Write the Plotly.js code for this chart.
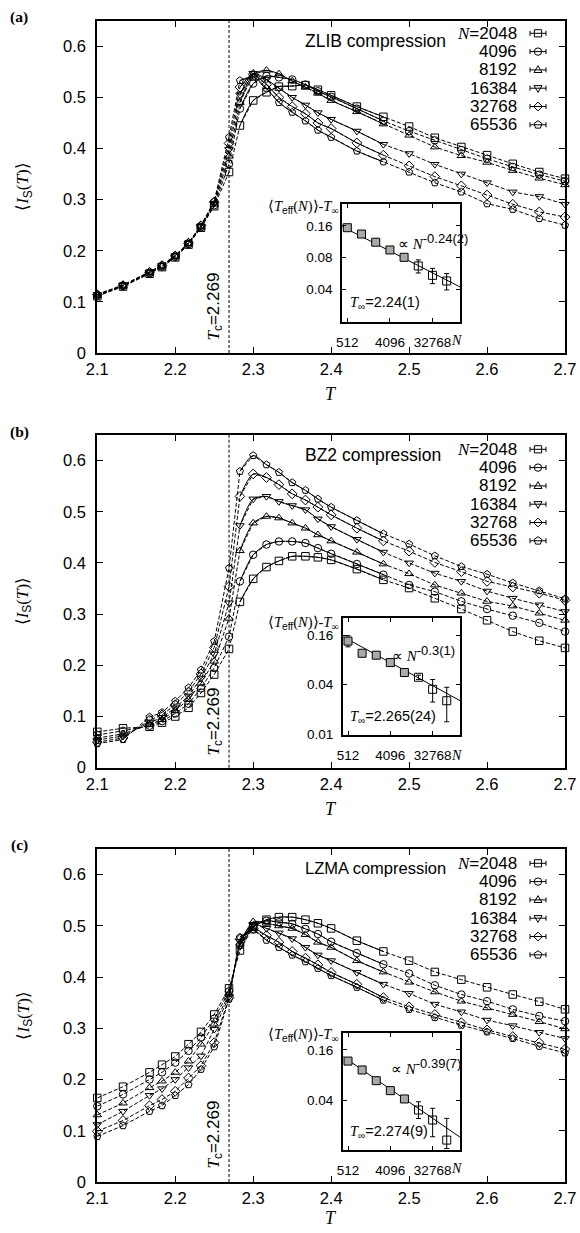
<!DOCTYPE html>
<html><head><meta charset="utf-8">
<script src="https://cdn.plot.ly/plotly-3.0.1.min.js"></script>
<style>html,body{margin:0;padding:0;background:#fff}#chart{width:580px;height:1233px}</style>
</head><body><div id="chart"></div>
<script>
// ---------------- DATA ----------------
const T = [2.1, 2.133, 2.167, 2.183, 2.2, 2.217, 2.233, 2.25, 2.269, 2.283, 2.3, 2.317, 2.333, 2.35, 2.367, 2.383, 2.4, 2.433, 2.467, 2.5, 2.533, 2.567, 2.6, 2.633, 2.667, 2.7];
const TC = 2.269;
const sizes = [2048, 4096, 8192, 16384, 32768, 65536];

// (a) ZLIB
const zlib2048  = [.111,.130,.155,.168,.187,.212,.245,.287,.354,.445,.494,.510,.521,.522,.524,.515,.504,.482,.462,.443,.421,.403,.387,.370,.354,.341];
const zlib4096  = [.112,.131,.156,.169,.188,.213,.246,.289,.370,.478,.527,.542,.539,.535,.525,.512,.501,.478,.454,.434,.416,.397,.380,.364,.349,.336];
const zlib8192  = [.113,.131,.157,.170,.189,.214,.247,.291,.385,.490,.545,.553,.546,.532,.520,.508,.494,.472,.448,.426,.403,.386,.373,.357,.342,.329];
const zlib16384 = [.114,.132,.158,.171,.190,.215,.248,.293,.398,.505,.547,.535,.518,.500,.485,.470,.457,.434,.408,.390,.369,.350,.333,.315,.306,.291];
const zlib32768 = [.114,.132,.158,.171,.190,.215,.249,.295,.410,.520,.545,.525,.500,.482,.468,.450,.439,.411,.387,.366,.345,.327,.309,.291,.276,.266];
const zlib65536 = [.115,.133,.159,.172,.191,.216,.250,.297,.422,.533,.540,.518,.490,.471,.454,.436,.422,.395,.374,.354,.333,.315,.292,.281,.263,.250];

// (b) BZ2
const bz2_2048  = [.070,.077,.080,.088,.100,.117,.146,.182,.232,.324,.369,.392,.404,.413,.413,.411,.406,.388,.367,.351,.331,.310,.288,.266,.248,.234];
const bz2_4096  = [.064,.072,.082,.091,.106,.125,.155,.195,.256,.364,.416,.436,.442,.442,.439,.429,.418,.398,.377,.357,.344,.325,.310,.297,.283,.266];
const bz2_8192  = [.058,.066,.084,.094,.112,.133,.165,.208,.292,.424,.478,.491,.488,.478,.468,.455,.443,.421,.398,.379,.357,.341,.325,.316,.302,.288];
const bz2_16384 = [.054,.062,.088,.098,.117,.140,.175,.222,.322,.473,.525,.530,.520,.512,.504,.486,.471,.446,.421,.400,.380,.364,.345,.331,.318,.305];
const bz2_32768 = [.050,.058,.093,.103,.123,.148,.183,.235,.354,.530,.574,.567,.553,.535,.523,.509,.494,.468,.443,.423,.401,.383,.364,.353,.341,.327];
const bz2_65536 = [.047,.055,.099,.108,.130,.156,.191,.247,.390,.579,.610,.592,.577,.557,.542,.525,.509,.483,.457,.437,.414,.393,.378,.361,.346,.330];

// (c) LZMA
const lzma2048  = [.164,.186,.214,.229,.245,.269,.293,.327,.378,.452,.498,.512,.517,.517,.512,.505,.495,.471,.450,.432,.410,.395,.380,.366,.352,.337];
const lzma4096  = [.148,.171,.200,.214,.233,.256,.282,.319,.372,.462,.500,.510,.507,.504,.494,.484,.469,.447,.425,.407,.384,.366,.353,.337,.324,.314];
const lzma8192  = [.131,.154,.184,.197,.214,.236,.269,.308,.367,.466,.508,.505,.500,.495,.483,.468,.458,.432,.410,.390,.371,.353,.340,.327,.313,.299];
const lzma16384 = [.112,.138,.169,.182,.200,.223,.246,.298,.362,.470,.503,.495,.486,.475,.458,.443,.432,.409,.386,.368,.347,.332,.316,.305,.292,.280];
const lzma32768 = [.099,.120,.149,.161,.177,.203,.227,.272,.360,.474,.495,.481,.468,.450,.437,.424,.409,.386,.360,.342,.327,.311,.297,.284,.272,.259];
const lzma65536 = [.089,.110,.138,.149,.169,.190,.220,.264,.357,.478,.492,.472,.458,.443,.430,.417,.403,.380,.355,.337,.321,.306,.293,.280,.265,.252];

// insets: <T_eff(N)> - T_inf
const insetN = [512, 1024, 2048, 4096, 8192, 16384, 32768, 65536];
const zlibTeff = [0.154, 0.134, 0.112, 0.0944, 0.0803, 0.0664, 0.054, 0.0477];
const zlibTeffErr = [0.006, 0.005, 0.004, 0.004, 0.003, 0.0095, 0.009, 0.0085];
const bz2Teff = [0.135, 0.096, 0.091, 0.074, 0.056, 0.049, 0.035, 0.0254];
const bz2TeffErrUp = [0.022, 0.005, 0.005, 0.004, 0.003, 0.003, 0.011, 0.0116];
const bz2TeffErrDown = [0.02, 0.005, 0.005, 0.004, 0.003, 0.003, 0.0105, 0.0113];
const lzmaTeff = [0.118, 0.0924, 0.0689, 0.0524, 0.0417, 0.0308, 0.0234, 0.0135];
const lzmaTeffErrUp = [0.006, 0.004, 0.003, 0.002, 0.002, 0.0078, 0.0089, 0.011];
const lzmaTeffErrDown = [0.006, 0.004, 0.003, 0.002, 0.002, 0.0064, 0.0086, 0.0028];
const zlibFitN = [400, 131072], zlibFitT = [0.1575, 0.0415];
const bz2FitN = [405, 127000],  bz2FitT = [0.1525, 0.0254];
const lzmaFitN = [405, 127000], lzmaFitT = [0.133, 0.01458];

const compressionNames = ['ZLIB compression', 'BZ2 compression', 'LZMA compression'];
const panelLabels = ['(a)', '(b)', '(c)'];
const exponents = ['-0.24(2)', '-0.3(1)', '-0.39(7)'];
const tInfs = ['2.24(1)', '2.265(24)', '2.274(9)'];
const insetXTicks = [512, 4096, 32768];
const insetYTicksA = [0.04, 0.08, 0.16];
const insetYTicksBC = [0.01, 0.04, 0.16];
const fitRange = [2.283, 2.467];

// ---------------- STYLE / GEOMETRY ----------------
const W = 580, H = 1233;
const SANS = "Liberation Sans, Arial, sans-serif";
const SERIF = "Liberation Serif, Times New Roman, serif";
const px = v => v / W, py = v => 1 - v / H;
const plotL = 97.3, plotR = 565;
const symbols = ['square', 'circle', 'triangle-up', 'triangle-down', 'diamond', 'pentagon'];
const insetFill = insetN.map((n, j) => j < 5 ? '#a9a9a9' : 'rgba(255,255,255,0)');
const geom = [
  {top:20.7, bottom:353, ins:{l:342,r:460,t:204,b:322}, insR:[-1.713,-0.586], leg0:33.3, title:40.7, titleSize:17.5, lab:17, xt:394, tc:307, insTitle:207, nLab:340, prop:[396,241], tinf:[385,302.5]},
  {top:435, bottom:767.7, ins:{l:342.7,r:460,t:617.7,b:735}, insR:[-2.012,-0.585], leg0:449.3, title:455, titleSize:17.5, lab:432, xt:809, tc:722, insTitle:623.3, nLab:755, prop:[390,653], tinf:[392.5,716.7]},
  {top:849, bottom:1182, ins:{l:342.7,r:460,t:1032.7,b:1150}, insR:[-1.988,-0.59], leg0:863.3, title:868.3, titleSize:16.5, lab:845, xt:1218, tc:1135, insTitle:1035, nLab:1168, prop:[389,1066], tinf:[389,1131.5]}
];
const panels = [
  {series:[zlib2048,zlib4096,zlib8192,zlib16384,zlib32768,zlib65536], teff:zlibTeff, up:zlibTeffErr, down:zlibTeffErr, fitN:zlibFitN, fitT:zlibFitT, yt:insetYTicksA},
  {series:[bz2_2048,bz2_4096,bz2_8192,bz2_16384,bz2_32768,bz2_65536], teff:bz2Teff, up:bz2TeffErrUp, down:bz2TeffErrDown, fitN:bz2FitN, fitT:bz2FitT, yt:insetYTicksBC},
  {series:[lzma2048,lzma4096,lzma8192,lzma16384,lzma32768,lzma65536], teff:lzmaTeff, up:lzmaTeffErrUp, down:lzmaTeffErrDown, fitN:lzmaFitN, fitT:lzmaFitT, yt:insetYTicksBC}
];

const traces = [], shapes = [], annotations = [];
const layout = {
  width: W, height: H, margin:{l:0,r:0,t:0,b:0},
  paper_bgcolor:'#fff', plot_bgcolor:'rgba(0,0,0,0)', showlegend:false,
  font:{family:SANS, color:'#000', size:16}
};

function symPath(s){
  switch(s){
    case 'square': return 'M -3.6,-3.6 L 3.6,-3.6 L 3.6,3.6 L -3.6,3.6 Z';
    case 'triangle-up': return 'M 0,4.2 L 4,-2.6 L -4,-2.6 Z';
    case 'triangle-down': return 'M 0,-4.2 L 4,2.6 L -4,2.6 Z';
    case 'diamond': return 'M 0,4.4 L 4.4,0 L 0,-4.4 L -4.4,0 Z';
    case 'pentagon': return 'M 0,4.1 L 3.9,1.27 L 2.41,-3.32 L -2.41,-3.32 L -3.9,1.27 Z';
  }
}
const serif = t => `<span style="font-family:Liberation Serif, Times New Roman, serif">${t}</span>`;
const sans = t => `<span style="font-family:Liberation Sans, Arial, sans-serif">${t}</span>`;

panels.forEach((p, i) => {
  const g = geom[i];
  const xa = i === 0 ? 'x' : 'x' + (i + 1), ya = i === 0 ? 'y' : 'y' + (i + 1);
  const xi = 'x' + (i + 4), yi = 'y' + (i + 4);
  const xk = i === 0 ? 'xaxis' : 'xaxis' + (i + 1), yk = i === 0 ? 'yaxis' : 'yaxis' + (i + 1);
  const axCommon = {showline:true, linewidth:2, linecolor:'#000', mirror:'ticks', ticks:'inside', ticklen:6, tickwidth:1, tickcolor:'#000', showgrid:false, zeroline:false, fixedrange:true, tickfont:{family:SANS, size:16.5}};
  layout[xk] = Object.assign({}, axCommon, {domain:[px(plotL), px(plotR)], range:[2.1, 2.7], tick0:2.1, dtick:0.1, anchor:ya, ticklabelstandoff:0});
  layout[yk] = Object.assign({}, axCommon, {domain:[py(g.bottom), py(g.top)], range:[0, 0.65], tick0:0, dtick:0.1, anchor:xa, ticklabelstandoff:6});

  p.series.forEach((vals, k) => {
    traces.push({x:T, y:vals, xaxis:xa, yaxis:ya, type:'scatter', mode:'lines+markers', cliponaxis:false, hoverinfo:'skip',
      line:{color:'#000', width:1, dash:'4px,2px'},
      marker:{symbol:symbols[k] + '-open', size:7.5, color:'#000', line:{width:1, color:'#000'}}});
    const fx = [], fy = [];
    T.forEach((t, j) => { if (t >= fitRange[0] - 1e-9 && t <= fitRange[1] + 1e-9) { fx.push(t); fy.push(vals[j]); } });
    traces.push({x:fx, y:fy, xaxis:xa, yaxis:ya, type:'scatter', mode:'lines', hoverinfo:'skip',
      line:{color:'#000', width:1, shape:'spline', smoothing:0.8}});
  });

  // inset axes
  const iax = {showline:true, linewidth:1.8, linecolor:'#000', mirror:'ticks', ticks:'inside', ticklen:4, tickwidth:1, tickcolor:'#000', showgrid:false, zeroline:false, fixedrange:true, type:'log', tickfont:{family:SANS, size:13.5}};
  layout['xaxis' + (i + 4)] = Object.assign({}, iax, {domain:[px(g.ins.l), px(g.ins.r)], range:[2.596, 5.0995], tickvals:insetXTicks, ticktext:insetXTicks.map(String), anchor:yi, ticklabelstandoff:7});
  layout['yaxis' + (i + 4)] = Object.assign({}, iax, {domain:[py(g.ins.b), py(g.ins.t)], range:g.insR, tickvals:p.yt, ticktext:p.yt.map(String), anchor:xi, ticklabelstandoff:5});
  traces.push({x:p.fitN, y:p.fitT, xaxis:xi, yaxis:yi, type:'scatter', mode:'lines', hoverinfo:'skip', line:{color:'#000', width:1}});
  traces.push({x:insetN, y:p.teff, xaxis:xi, yaxis:yi, type:'scatter', mode:'markers', hoverinfo:'skip', cliponaxis:false,
    marker:{symbol:'square', size:8, color:insetFill, line:{width:1, color:'#000'}},
    error_y:{type:'data', array:p.up, arrayminus:p.down, visible:true, color:'#000', thickness:1, width:2.5}});

  // Tc line
  shapes.push({type:'line', xref:xa, yref:ya + ' domain', x0:TC, x1:TC, y0:0, y1:1, line:{color:'#000', width:1, dash:'3px,2px'}});

  // legend glyphs + labels
  sizes.forEach((s, k) => {
    const cy = g.leg0 + k * 18.3;
    shapes.push({type:'path', xref:'paper', yref:'paper', xsizemode:'pixel', ysizemode:'pixel', xanchor:px(538), yanchor:py(cy),
      path:'M -8,-2.5 L -8,2.5 M -8,0 L 8,0 M 8,-2.5 L 8,2.5', line:{color:'#000', width:1}});
    if (symbols[k] === 'circle') {
      shapes.push({type:'circle', xref:'paper', yref:'paper', xsizemode:'pixel', ysizemode:'pixel', xanchor:px(538), yanchor:py(cy), x0:-3.7, x1:3.7, y0:-3.7, y1:3.7, line:{color:'#000', width:1}});
    } else {
      shapes.push({type:'path', xref:'paper', yref:'paper', xsizemode:'pixel', ysizemode:'pixel', xanchor:px(538), yanchor:py(cy), path:symPath(symbols[k]), line:{color:'#000', width:1}});
    }
    const txt = k === 0 ? `${serif('<i>N</i>')}=${s}` : String(s);
    annotations.push({xref:'paper', yref:'paper', x:px(518.5), y:py(cy), xanchor:'right', yanchor:'middle', text:txt, showarrow:false, font:{family:SANS, size:17}});
  });

  annotations.push({xref:'paper', yref:'paper', x:px(303), y:py(g.title), xanchor:'left', yanchor:'middle', text:compressionNames[i], showarrow:false, font:{family:SANS, size:g.titleSize}});
  annotations.push({xref:'paper', yref:'paper', x:px(19), y:py(g.lab), xanchor:'center', yanchor:'middle', text:'<b>' + panelLabels[i] + '</b>', showarrow:false, font:{family:SERIF, size:15.5}});
  annotations.push({xref:'paper', yref:'paper', x:px(24), y:py((g.top + g.bottom) / 2), xanchor:'center', yanchor:'middle', textangle:-90,
    text:`⟨<i>I</i><sub>${sans('S')}</sub>(<i>T</i>)⟩`, showarrow:false, font:{family:SERIF, size:17}});
  annotations.push({xref:'paper', yref:'paper', x:px((plotL + plotR) / 2), y:py(g.xt), xanchor:'center', yanchor:'middle',
    text:'<i>T</i>', showarrow:false, font:{family:SERIF, size:18}});
  annotations.push({xref:'paper', yref:'paper', x:px(214.5), y:py(g.tc), xanchor:'center', yanchor:'middle', textangle:-90,
    text:`${serif('<i>T</i>')}<sub>c</sub>=${TC}`, showarrow:false, font:{family:SANS, size:17}});
  // inset texts
  annotations.push({xref:'paper', yref:'paper', x:px(341), y:py(g.insTitle), xanchor:'right', yanchor:'middle',
    text:`⟨<i>T</i><sub>${sans('eff')}</sub>(<i>N</i>)⟩-<i>T</i><sub>∞</sub>`, showarrow:false, font:{family:SERIF, size:14.5}});
  annotations.push({xref:'paper', yref:'paper', x:px(456.5), y:py(g.nLab), xanchor:'center', yanchor:'middle',
    text:'<i>N</i>', showarrow:false, font:{family:SERIF, size:14}});
  annotations.push({xref:'paper', yref:'paper', x:px(g.prop[0]), y:py(g.prop[1]), xanchor:'left', yanchor:'middle',
    text:`${serif('∝ <i>N</i>')}<sup><span style="font-size:13px">${exponents[i]}</span></sup>`, showarrow:false, font:{family:SANS, size:15}});
  annotations.push({xref:'paper', yref:'paper', x:px(g.tinf[0]), y:py(g.tinf[1]), xanchor:'center', yanchor:'middle',
    text:`${serif('<i>T</i>')}<sub>∞</sub>=${tInfs[i]}`, showarrow:false, font:{family:SANS, size:14.5}});
});

layout.shapes = shapes;
layout.annotations = annotations;
Plotly.newPlot('chart', traces, layout, {staticPlot:true, displayModeBar:false});
</script>
</body></html>
